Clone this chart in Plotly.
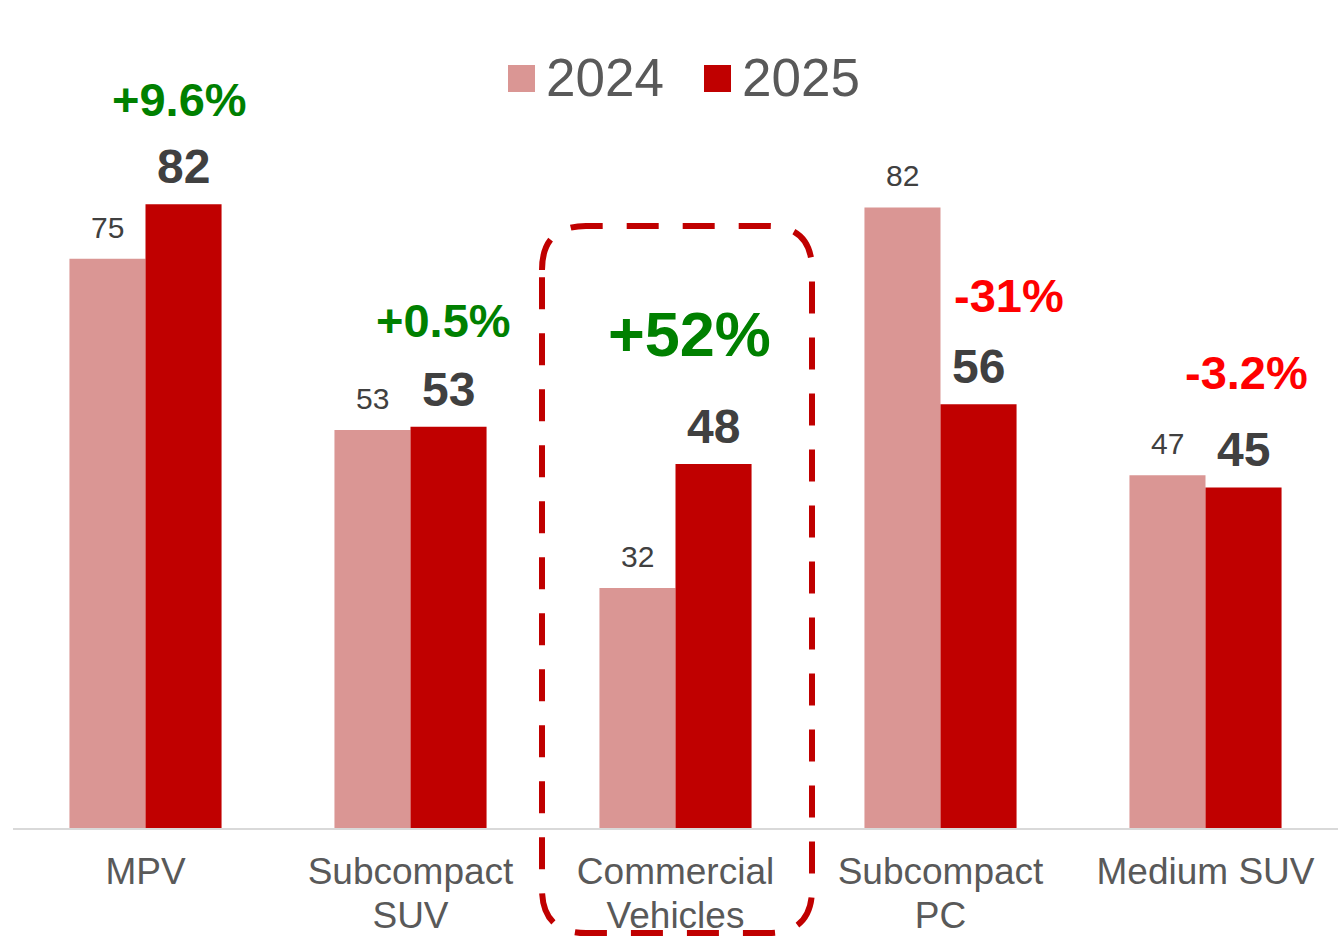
import plotly.graph_objects as go

# data
categories = ["MPV", "Subcompact SUV", "Commercial Vehicles", "Subcompact PC", "Medium SUV"]
label_line1 = ["MPV", "Subcompact", "Commercial", "Subcompact", "Medium SUV"]
label_line2 = ["", "SUV", "Vehicles", "PC", ""]
sales_2024 = [75.2, 52.6, 31.7, 82.0, 46.6]
sales_2025 = [82.4, 53.0, 48.1, 56.0, 45.0]
change_labels = ["+9.6%", "+0.5%", "+52%", "-31%", "-3.2%"]
series_names = ["2024", "2025"]

# layout helpers (not data)
change_dx = [0.128, 0.125, 0.053, 0.26, 0.155]
change_y = [96.2, 67.1, 65.3, 70.4, 60.2]
change_size = [47, 47, 63, 47, 47]

COL_2024 = "#DA9694"
COL_2025 = "#C00000"
FONT = "Arial, Liberation Sans, sans-serif"

W, H = 1338, 937
M_L, M_R, M_T, M_B = 13, 0, 0, 109
BARGAP = 0.426
HALF = (1 - BARGAP) / 4


def px(x):
    return (x - M_L) / (W - M_L - M_R)


def py(y):
    return (H - M_B - y) / (H - M_T - M_B)


xs = list(range(len(categories)))

fig = go.Figure()
fig.add_trace(go.Bar(x=xs, y=sales_2024, name=series_names[0], marker_color=COL_2024,
                     marker_line_width=0, showlegend=False, hoverinfo="skip"))
fig.add_trace(go.Bar(x=xs, y=sales_2025, name=series_names[1], marker_color=COL_2025,
                     marker_line_width=0, showlegend=False, hoverinfo="skip"))
# empty trace so the second-line label axis gets drawn
fig.add_trace(go.Scatter(x=xs, y=[None] * len(xs), xaxis="x2", mode="markers",
                         showlegend=False, hoverinfo="skip"))

# value labels
for i, v in enumerate(sales_2024):
    fig.add_annotation(x=i - HALF, y=v, text=f"{v:.0f}", showarrow=False,
                       yanchor="bottom", yshift=13,
                       font=dict(family=FONT, size=30, color="#404040"))
for i, v in enumerate(sales_2025):
    fig.add_annotation(x=i + HALF, y=v, text=f"<b>{v:.0f}</b>", showarrow=False,
                       yanchor="bottom", yshift=9,
                       font=dict(family=FONT, size=48, color="#404040"))

# growth labels
for i, lab in enumerate(change_labels):
    color = "#008000" if lab.startswith("+") else "#FF0000"
    fig.add_annotation(x=i + change_dx[i], y=change_y[i], text=f"<b>{lab}</b>",
                       showarrow=False, yanchor="middle",
                       font=dict(family=FONT, size=change_size[i], color=color))

# hand-drawn legend
legend_items = [(508, series_names[0], COL_2024), (704, series_names[1], COL_2025)]
for x0, name, col in legend_items:
    fig.add_shape(type="rect", xref="paper", yref="paper",
                  x0=px(x0), x1=px(x0 + 27), y0=py(92), y1=py(65),
                  fillcolor=col, line_width=0)
    fig.add_annotation(xref="paper", yref="paper", x=px(x0 + 36), y=py(78),
                       text=name, showarrow=False, xanchor="left", yanchor="middle",
                       font=dict(family=FONT, size=53, color="#595959"))

# dashed highlight box around Commercial Vehicles
L, R, T, B, r = 542, 812, 226, 933, 44
path = (
    f"M {px(L)},{py(T + r)} Q {px(L)},{py(T)} {px(L + r)},{py(T)} "
    f"L {px(R - r)},{py(T)} Q {px(R)},{py(T)} {px(R)},{py(T + r)} "
    f"L {px(R)},{py(B - r)} Q {px(R)},{py(B)} {px(R - r)},{py(B)} "
    f"L {px(L + r)},{py(B)} Q {px(L)},{py(B)} {px(L)},{py(B - r)} Z"
)
fig.add_shape(type="path", xref="paper", yref="paper", path=path,
              line=dict(color=COL_2025, width=6, dash="32px,24px"))

tick_font = dict(family=FONT, size=37, color="#595959")

fig.update_layout(
    width=W,
    height=H,
    margin=dict(l=M_L, r=M_R, t=M_T, b=M_B),
    barmode="group",
    bargap=BARGAP,
    bargroupgap=0,
    plot_bgcolor="white",
    paper_bgcolor="white",
    showlegend=False,
    xaxis=dict(
        range=[-0.5, 4.5],
        tickmode="array",
        tickvals=xs,
        ticktext=label_line1,
        tickfont=tick_font,
        ticklabelstandoff=10,
        showline=True,
        linecolor="#D9D9D9",
        linewidth=1.5,
        showgrid=False,
        zeroline=False,
        ticks="",
        fixedrange=True,
    ),
    xaxis2=dict(
        range=[-0.5, 4.5],
        overlaying="x",
        anchor="y",
        side="bottom",
        tickmode="array",
        tickvals=xs,
        ticktext=label_line2,
        tickfont=tick_font,
        ticklabelstandoff=62,
        showline=False,
        showgrid=False,
        zeroline=False,
        ticks="",
        fixedrange=True,
    ),
    yaxis=dict(range=[0, 109.4], visible=False, fixedrange=True),
)

fig.write_html("out.html", config={"displayModeBar": False},
               post_script="document.body.style.margin='0';")
